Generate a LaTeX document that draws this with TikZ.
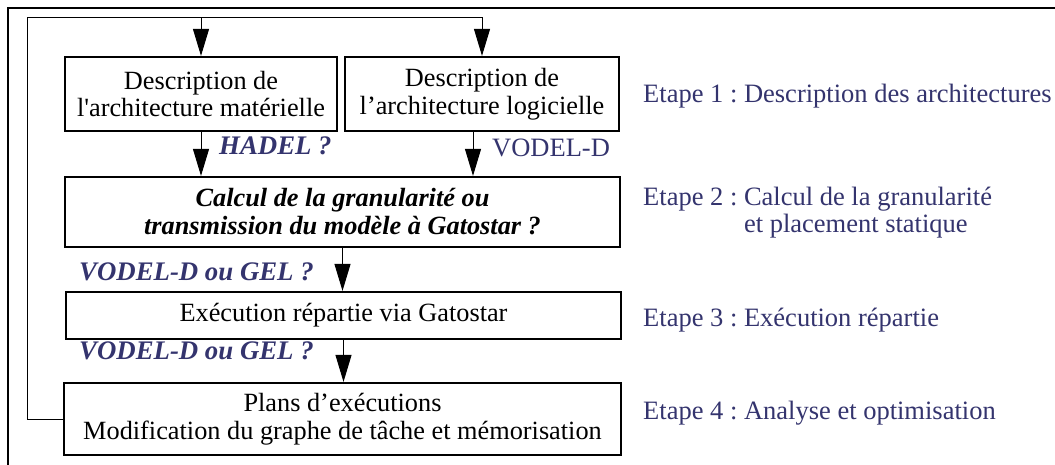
\documentclass[tikz,border=0pt]{standalone}
\usepackage{fontspec}
\setmainfont{Liberation Serif}[Ligatures=TeXOff]
\usetikzlibrary{arrows.meta}
\definecolor{navy}{RGB}{52,52,110}
\frenchspacing
\begin{document}
\begin{tikzpicture}[x=1pt,y=-1pt,
  box/.style={draw,line width=2.2pt,inner sep=0pt,align=center,font=\fontsize{26.3}{28}\selectfont},
  conn/.style={line width=1pt},
  arr/.style={line width=1pt,-{Triangle[length=27pt,width=16pt]}},
  lab/.style={inner sep=0pt,anchor=base west,text=navy,font=\fontsize{26.5}{26.5}\selectfont},
  blab/.style={lab,font=\fontsize{26.8}{28}\selectfont\bfseries\itshape}]
\useasboundingbox (0,0) rectangle (1055,464);
\fill[white] (0,0) rectangle (1055,464);
% outer frame (top and left edges visible)
\draw[line width=2pt] (8,470) -- (8,8) -- (1070,8);
% boxes
\node[box,minimum width=272pt,minimum height=74pt] (b1) at (201,94) {Description de\\l'architecture matérielle};
\node[box,minimum width=274pt,minimum height=74pt] (b2) at (482,94) {Description de\\l’architecture logicielle};
\node[box,minimum width=555pt,minimum height=70pt] (b3) at (342.5,212) {\bfseries\itshape Calcul de la granularité ou\\\bfseries\itshape transmission du modèle à Gatostar ?};
\node[box,minimum width=555pt,minimum height=47pt] (b4) at (343.5,315.5) {Exécution répartie via Gatostar};
\node[box,minimum width=557pt,minimum height=72pt] (b5) at (342.5,419) {Plans d’exécutions\\Modification du graphe de tâche et mémorisation};
% feedback loop
\coordinate (lpL) at (27,419);
\coordinate (lpT) at (27,17);
\coordinate (s1) at (201,17);
\coordinate (s2) at (482,17);
\draw[conn] (b5.west) -- (lpL) -- (lpT) -- (s2);
\draw[arr] (s1) -- (b1.north);
\draw[arr] (s2) -- (b2.north);
% flow arrows
\draw[arr] (b1.south) -- (b1.south |- b3.north);
\coordinate (b2o) at ([xshift=-9pt]b2.south);
\draw[arr] (b2o) -- (b2o |- b3.north);
\draw[arr] (b3.south) -- (b3.south |- b4.north);
\draw[arr] (b4.south) -- (b4.south |- b5.north);
% labels
\node[blab] (lh) at (219,154) {HADEL ?};
\node[lab] (lv) at (492,156) {VODEL-D};
\node[blab] (lg1) at (79,280) {VODEL-D ou GEL ?};
\node[blab] (lg2) at (79,359.5) {VODEL-D ou GEL ?};
% steps
\node[lab] (e1) at (643,102.5) {Etape 1 : Description des architectures};
\node[lab,align=left] (e2) at (643,232) {Etape 2 : Calcul de la granularité\\\phantom{Etape 2 : }et placement statique};
\node[lab] (e3) at (643,326.5) {Etape 3 : Exécution répartie};
\node[lab] (e4) at (643,419) {Etape 4 : Analyse et optimisation};
\end{tikzpicture}
\end{document}
